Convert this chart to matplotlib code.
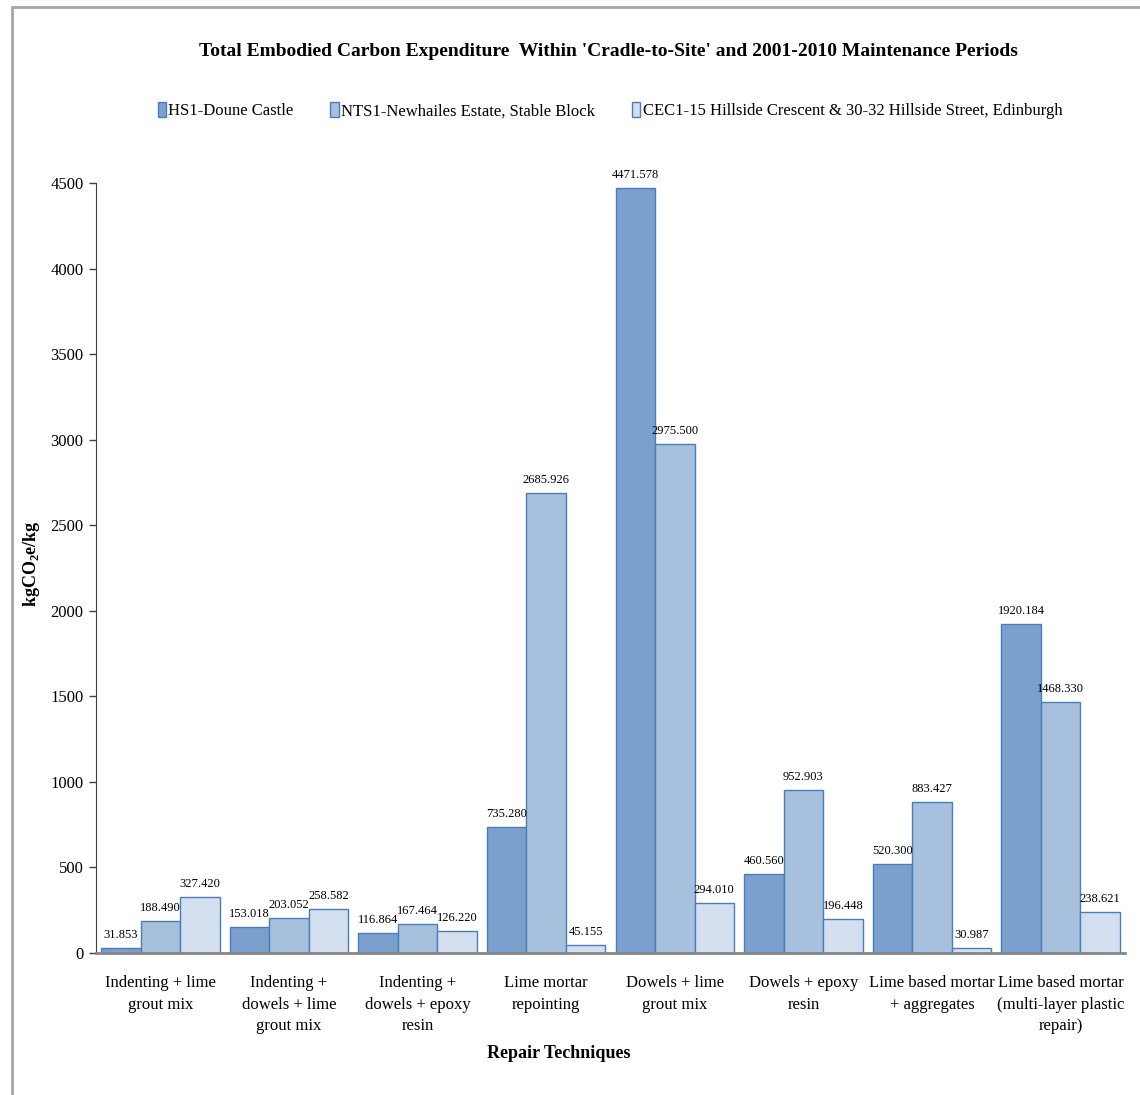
import numpy as np
import matplotlib
matplotlib.use('Agg')
import matplotlib.pyplot as plt
from matplotlib.patches import Rectangle

plt.rcParams['font.family'] = ['Liberation Serif', 'DejaVu Serif']
plt.rcParams['mathtext.fontset'] = 'custom'
plt.rcParams['mathtext.rm'] = 'Liberation Serif'
plt.rcParams['mathtext.bf'] = 'Liberation Serif:bold'

tecnicas = ['Indenting + lime\ngrout mix',
            'Indenting +\ndowels + lime\ngrout mix',
            'Indenting +\ndowels + epoxy\nresin',
            'Lime mortar\nrepointing',
            'Dowels + lime\ngrout mix',
            'Dowels + epoxy\nresin',
            'Lime based mortar\n+ aggregates',
            'Lime based mortar\n(multi-layer plastic\nrepair)']
series = ['HS1-Doune Castle',
          'NTS1-Newhailes Estate, Stable Block',
          'CEC1-15 Hillside Crescent & 30-32 Hillside Street, Edinburgh']
hs1 = [31.853, 153.018, 116.864, 735.280, 4471.578, 460.560, 520.300, 1920.184]
nts1 = [188.490, 203.052, 167.464, 2685.926, 2975.500, 952.903, 883.427, 1468.330]
cec1 = [327.420, 258.582, 126.220, 45.155, 294.010, 196.448, 30.987, 238.621]
cores = ['#7BA0CD', '#A7C0DE', '#D3DFEE']

fig = plt.figure(figsize=(11.4, 10.95), dpi=100)
ax = fig.add_axes([0.0842, 0.1297, 0.9026, 0.7032])

x = np.arange(len(tecnicas))
largura = 0.307
for i, (valores, nome) in enumerate(zip([hs1, nts1, cec1], series)):
    barras = ax.bar(x + (i - 1) * largura, valores, largura, color=cores[i],
                    edgecolor='#4A7EBB', linewidth=1.0, label=nome, zorder=2)
    ax.bar_label(barras, fmt='%.3f', padding=5, fontsize=9)

ax.set_xlim(-0.5, len(tecnicas) - 0.5)
ax.set_ylim(0, 4500)
ax.set_yticks(np.arange(0, 4501, 500))
ax.set_xticks(x)
ax.set_xticklabels(tecnicas, fontsize=12, linespacing=1.45)
ax.tick_params(axis='x', length=0, pad=16)
ax.tick_params(axis='y', labelsize=12, length=5, width=1, color='#404040', pad=4)
ax.spines['top'].set_visible(False)
ax.spines['right'].set_visible(False)
ax.spines['left'].set_color('#404040')
ax.spines['bottom'].set_color('#868686')
ax.spines['bottom'].set_linewidth(2)
ax.spines['bottom'].set_zorder(3)

fig.text(0.534, 0.953, "Total Embodied Carbon Expenditure  Within 'Cradle-to-Site' and 2001-2010 Maintenance Periods",
         ha='center', va='center', fontsize=14, fontweight='bold')
fig.legend(loc='center', bbox_to_anchor=(0.535, 0.899), ncol=3, frameon=False, fontsize=12,
           handlelength=0.5, handleheight=1.0, handletextpad=0.15, columnspacing=2.2)
fig.text(0.028, 0.485, r'kgCO$_\mathbf{2}$e/kg', rotation=90, ha='center', va='center',
         fontsize=13, fontweight='bold')
fig.text(0.49, 0.038, 'Repair Techniques', ha='center', va='center', fontsize=13, fontweight='bold')

fig.patches.append(Rectangle((12 / 1140, -0.05), 1.1, 1 - 7 / 1095 + 0.05, transform=fig.transFigure,
                             fill=False, edgecolor='#A6A6A6', linewidth=2))

fig.savefig('out.png', dpi=100)
